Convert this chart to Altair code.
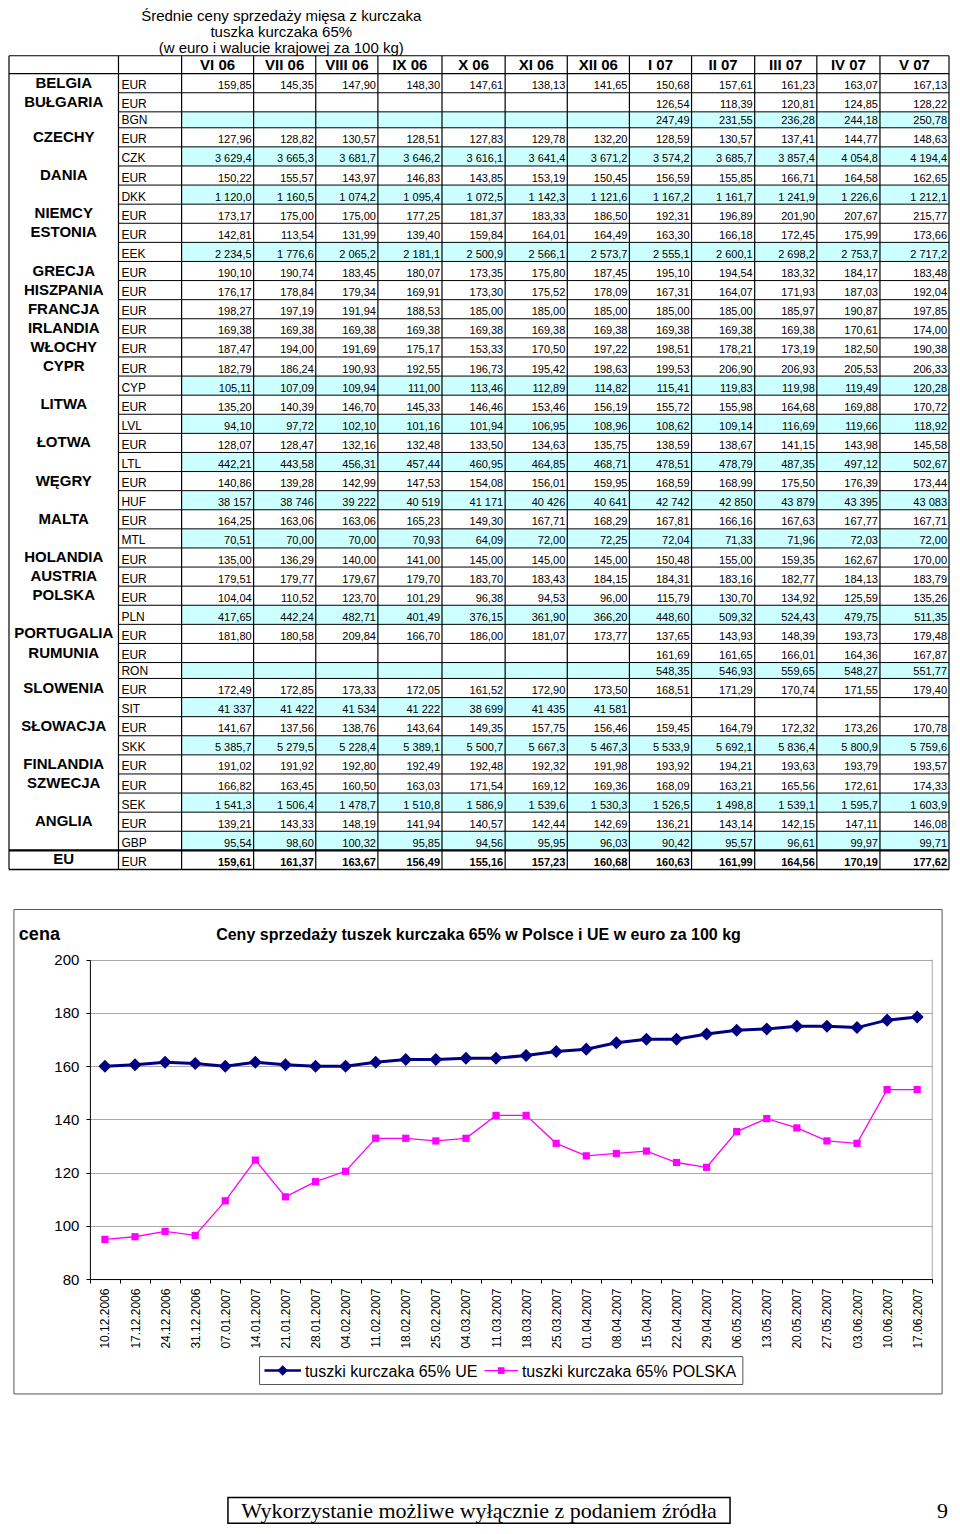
import altair as alt
import pandas as pd

# ---------------------------------------------------------------- texts
TITLE_LINES = ["Średnie ceny sprzedaży mięsa z kurczaka",
               "tuszka kurczaka 65%",
               "(w euro i walucie krajowej za 100 kg)"]
MONTHS = ["VI 06", "VII 06", "VIII 06", "IX 06", "X 06", "XI 06", "XII 06",
          "I 07", "II 07", "III 07", "IV 07", "V 07"]

# ---------------------------------------------------------------- table values
BELGIA_EUR = [159.85, 145.35, 147.90, 148.30, 147.61, 138.13, 141.65, 150.68, 157.61, 161.23, 163.07, 167.13]
BULGARIA_EUR = [None, None, None, None, None, None, None, 126.54, 118.39, 120.81, 124.85, 128.22]
BULGARIA_BGN = [None, None, None, None, None, None, None, 247.49, 231.55, 236.28, 244.18, 250.78]
CZECHY_EUR = [127.96, 128.82, 130.57, 128.51, 127.83, 129.78, 132.20, 128.59, 130.57, 137.41, 144.77, 148.63]
CZECHY_CZK = [3629.4, 3665.3, 3681.7, 3646.2, 3616.1, 3641.4, 3671.2, 3574.2, 3685.7, 3857.4, 4054.8, 4194.4]
DANIA_EUR = [150.22, 155.57, 143.97, 146.83, 143.85, 153.19, 150.45, 156.59, 155.85, 166.71, 164.58, 162.65]
DANIA_DKK = [1120.0, 1160.5, 1074.2, 1095.4, 1072.5, 1142.3, 1121.6, 1167.2, 1161.7, 1241.9, 1226.6, 1212.1]
NIEMCY_EUR = [173.17, 175.00, 175.00, 177.25, 181.37, 183.33, 186.50, 192.31, 196.89, 201.90, 207.67, 215.77]
ESTONIA_EUR = [142.81, 113.54, 131.99, 139.40, 159.84, 164.01, 164.49, 163.30, 166.18, 172.45, 175.99, 173.66]
ESTONIA_EEK = [2234.5, 1776.6, 2065.2, 2181.1, 2500.9, 2566.1, 2573.7, 2555.1, 2600.1, 2698.2, 2753.7, 2717.2]
GRECJA_EUR = [190.10, 190.74, 183.45, 180.07, 173.35, 175.80, 187.45, 195.10, 194.54, 183.32, 184.17, 183.48]
HISZPANIA_EUR = [176.17, 178.84, 179.34, 169.91, 173.30, 175.52, 178.09, 167.31, 164.07, 171.93, 187.03, 192.04]
FRANCJA_EUR = [198.27, 197.19, 191.94, 188.53, 185.00, 185.00, 185.00, 185.00, 185.00, 185.97, 190.87, 197.85]
IRLANDIA_EUR = [169.38, 169.38, 169.38, 169.38, 169.38, 169.38, 169.38, 169.38, 169.38, 169.38, 170.61, 174.00]
WLOCHY_EUR = [187.47, 194.00, 191.69, 175.17, 153.33, 170.50, 197.22, 198.51, 178.21, 173.19, 182.50, 190.38]
CYPR_EUR = [182.79, 186.24, 190.93, 192.55, 196.73, 195.42, 198.63, 199.53, 206.90, 206.93, 205.53, 206.33]
CYPR_CYP = [105.11, 107.09, 109.94, 111.00, 113.46, 112.89, 114.82, 115.41, 119.83, 119.98, 119.49, 120.28]
LITWA_EUR = [135.20, 140.39, 146.70, 145.33, 146.46, 153.46, 156.19, 155.72, 155.98, 164.68, 169.88, 170.72]
LITWA_LVL = [94.10, 97.72, 102.10, 101.16, 101.94, 106.95, 108.96, 108.62, 109.14, 116.69, 119.66, 118.92]
LOTWA_EUR = [128.07, 128.47, 132.16, 132.48, 133.50, 134.63, 135.75, 138.59, 138.67, 141.15, 143.98, 145.58]
LOTWA_LTL = [442.21, 443.58, 456.31, 457.44, 460.95, 464.85, 468.71, 478.51, 478.79, 487.35, 497.12, 502.67]
WEGRY_EUR = [140.86, 139.28, 142.99, 147.53, 154.08, 156.01, 159.95, 168.59, 168.99, 175.50, 176.39, 173.44]
WEGRY_HUF = [38157, 38746, 39222, 40519, 41171, 40426, 40641, 42742, 42850, 43879, 43395, 43083]
MALTA_EUR = [164.25, 163.06, 163.06, 165.23, 149.30, 167.71, 168.29, 167.81, 166.16, 167.63, 167.77, 167.71]
MALTA_MTL = [70.51, 70.00, 70.00, 70.93, 64.09, 72.00, 72.25, 72.04, 71.33, 71.96, 72.03, 72.00]
HOLANDIA_EUR = [135.00, 136.29, 140.00, 141.00, 145.00, 145.00, 145.00, 150.48, 155.00, 159.35, 162.67, 170.00]
AUSTRIA_EUR = [179.51, 179.77, 179.67, 179.70, 183.70, 183.43, 184.15, 184.31, 183.16, 182.77, 184.13, 183.79]
POLSKA_EUR = [104.04, 110.52, 123.70, 101.29, 96.38, 94.53, 96.00, 115.79, 130.70, 134.92, 125.59, 135.26]
POLSKA_PLN = [417.65, 442.24, 482.71, 401.49, 376.15, 361.90, 366.20, 448.60, 509.32, 524.43, 479.75, 511.35]
PORTUGALIA_EUR = [181.80, 180.58, 209.84, 166.70, 186.00, 181.07, 173.77, 137.65, 143.93, 148.39, 193.73, 179.48]
RUMUNIA_EUR = [None, None, None, None, None, None, None, 161.69, 161.65, 166.01, 164.36, 167.87]
RUMUNIA_RON = [None, None, None, None, None, None, None, 548.35, 546.93, 559.65, 548.27, 551.77]
SLOWENIA_EUR = [172.49, 172.85, 173.33, 172.05, 161.52, 172.90, 173.50, 168.51, 171.29, 170.74, 171.55, 179.40]
SLOWENIA_SIT = [41337, 41422, 41534, 41222, 38699, 41435, 41581, None, None, None, None, None]
SLOWACJA_EUR = [141.67, 137.56, 138.76, 143.64, 149.35, 157.75, 156.46, 159.45, 164.79, 172.32, 173.26, 170.78]
SLOWACJA_SKK = [5385.7, 5279.5, 5228.4, 5389.1, 5500.7, 5667.3, 5467.3, 5533.9, 5692.1, 5836.4, 5800.9, 5759.6]
FINLANDIA_EUR = [191.02, 191.92, 192.80, 192.49, 192.48, 192.32, 191.98, 193.92, 194.21, 193.63, 193.79, 193.57]
SZWECJA_EUR = [166.82, 163.45, 160.50, 163.03, 171.54, 169.12, 169.36, 168.09, 163.21, 165.56, 172.61, 174.33]
SZWECJA_SEK = [1541.3, 1506.4, 1478.7, 1510.8, 1586.9, 1539.6, 1530.3, 1526.5, 1498.8, 1539.1, 1595.7, 1603.9]
ANGLIA_EUR = [139.21, 143.33, 148.19, 141.94, 140.57, 142.44, 142.69, 136.21, 143.14, 142.15, 147.11, 146.08]
ANGLIA_GBP = [95.54, 98.60, 100.32, 95.85, 94.56, 95.95, 96.03, 90.42, 95.57, 96.61, 99.97, 99.71]
EU_EUR = [159.61, 161.37, 163.67, 156.49, 155.16, 157.23, 160.68, 160.63, 161.99, 164.56, 170.19, 177.62]

TABLE_ROWS = [
    ("BELGIA", "EUR", BELGIA_EUR),
    ("BUŁGARIA", "EUR", BULGARIA_EUR),
    ("", "BGN", BULGARIA_BGN),
    ("CZECHY", "EUR", CZECHY_EUR),
    ("", "CZK", CZECHY_CZK),
    ("DANIA", "EUR", DANIA_EUR),
    ("", "DKK", DANIA_DKK),
    ("NIEMCY", "EUR", NIEMCY_EUR),
    ("ESTONIA", "EUR", ESTONIA_EUR),
    ("", "EEK", ESTONIA_EEK),
    ("GRECJA", "EUR", GRECJA_EUR),
    ("HISZPANIA", "EUR", HISZPANIA_EUR),
    ("FRANCJA", "EUR", FRANCJA_EUR),
    ("IRLANDIA", "EUR", IRLANDIA_EUR),
    ("WŁOCHY", "EUR", WLOCHY_EUR),
    ("CYPR", "EUR", CYPR_EUR),
    ("", "CYP", CYPR_CYP),
    ("LITWA", "EUR", LITWA_EUR),
    ("", "LVL", LITWA_LVL),
    ("ŁOTWA", "EUR", LOTWA_EUR),
    ("", "LTL", LOTWA_LTL),
    ("WĘGRY", "EUR", WEGRY_EUR),
    ("", "HUF", WEGRY_HUF),
    ("MALTA", "EUR", MALTA_EUR),
    ("", "MTL", MALTA_MTL),
    ("HOLANDIA", "EUR", HOLANDIA_EUR),
    ("AUSTRIA", "EUR", AUSTRIA_EUR),
    ("POLSKA", "EUR", POLSKA_EUR),
    ("", "PLN", POLSKA_PLN),
    ("PORTUGALIA", "EUR", PORTUGALIA_EUR),
    ("RUMUNIA", "EUR", RUMUNIA_EUR),
    ("", "RON", RUMUNIA_RON),
    ("SLOWENIA", "EUR", SLOWENIA_EUR),
    ("", "SIT", SLOWENIA_SIT),
    ("SŁOWACJA", "EUR", SLOWACJA_EUR),
    ("", "SKK", SLOWACJA_SKK),
    ("FINLANDIA", "EUR", FINLANDIA_EUR),
    ("SZWECJA", "EUR", SZWECJA_EUR),
    ("", "SEK", SZWECJA_SEK),
    ("ANGLIA", "EUR", ANGLIA_EUR),
    ("", "GBP", ANGLIA_GBP),
    ("EU", "EUR", EU_EUR),
]
DECIMALS = {"EUR": 2, "BGN": 2, "CZK": 1, "DKK": 1, "EEK": 1, "CYP": 2, "LVL": 2,
            "LTL": 2, "HUF": 0, "MTL": 2, "PLN": 2, "RON": 2, "SIT": 0, "SKK": 1,
            "SEK": 1, "GBP": 2}

# ---------------------------------------------------------------- chart values
DATES = ["10.12.2006", "17.12.2006", "24.12.2006", "31.12.2006", "07.01.2007",
         "14.01.2007", "21.01.2007", "28.01.2007", "04.02.2007", "11.02.2007",
         "18.02.2007", "25.02.2007", "04.03.2007", "11.03.2007", "18.03.2007",
         "25.03.2007", "01.04.2007", "08.04.2007", "15.04.2007", "22.04.2007",
         "29.04.2007", "06.05.2007", "13.05.2007", "20.05.2007", "27.05.2007",
         "03.06.2007", "10.06.2007", "17.06.2007"]
UE = [160.0, 160.5, 161.5, 161.0, 160.0, 161.5, 160.5, 160.0, 160.0, 161.5,
      162.5, 162.5, 163.0, 163.0, 164.0, 165.5, 166.4, 168.8, 170.1, 170.1,
      172.1, 173.5, 174.0, 175.0, 175.0, 174.5, 177.3, 178.5]
PL = [94.9, 95.9, 97.9, 96.4, 109.4, 124.7, 110.9, 116.6, 120.5, 132.9,
      132.9, 131.9, 132.9, 141.5, 141.5, 131.0, 126.3, 127.2, 128.1, 123.8,
      122.0, 135.4, 140.3, 136.8, 131.9, 131.0, 151.2, 151.2]
SERIES = ["tuszki kurczaka 65% UE", "tuszki kurczaka 65% POLSKA"]
CHART_TITLE = "Ceny sprzedaży tuszek kurczaka 65% w Polsce i UE w euro za 100 kg"
Y_LABEL = "cena"
FOOTER = "Wykorzystanie możliwe wyłącznie z podaniem źródła"
PAGE_NO = "9"

# ---------------------------------------------------------------- styles / layout
FONT = "Liberation Sans"
CYAN = "#ccffff"
NAVY = "#000080"
MAGENTA = "#ff00ff"

CW, CH = 942, 1516          # whole drawing
SX = (CW - 2) / 953.0


def cx(px):                   # page-layout x -> drawing x
    return 1 + (px - 4) * SX


SY = CH / 1524.0


def cy(py):                   # page-layout y -> drawing y
    return (py - 8) * SY


COL_W = [111, 64, 73, 63, 63, 65, 64, 63, 63, 63, 64, 63, 64, 70]
edges = [4]
for w in COL_W:
    edges.append(edges[-1] + w)
HEAD_TOP, HEAD_BOT = 55, 73
SHORT = ("BGN", "RON")


def fmt(v, d):
    s = f"{v:,.{d}f}"
    return s.replace(",", " ").replace(".", ",")


fills, lines, hdr, ctry, curr, nums, nums_b = [], [], [], [], [], [], []
tops = []
y = HEAD_BOT
for country, cur, vals in TABLE_ROWS:
    h = 16.0 if cur in SHORT else 19.2
    top, bot = y, y + h
    tops.append((top, bot))
    if country:
        ctry.append({"t": country, "x": (edges[0] + edges[1]) / 2, "y": (top + bot) / 2 - 0.5})
    curr.append({"t": cur, "x": edges[1] + 3, "y": bot - 3.5})
    for c, v in enumerate(vals):
        xl, xr = edges[c + 2], edges[c + 3]
        if cur != "EUR" and (v is not None or cur in SHORT):
            fills.append({"x": xl, "x2": xr, "y": top, "y2": bot})
        if v is not None:
            rec = {"t": fmt(v, DECIMALS[cur]), "x": xr - 2, "y": bot - 3.5}
            (nums_b if country == "EU" else nums).append(rec)
    y = bot
TABLE_BOT = y

for i, m in enumerate(MONTHS):
    hdr.append({"t": m, "x": (edges[i + 2] + edges[i + 3]) / 2, "y": 64})

for e in edges:
    lines.append({"x": e, "x2": e, "y": HEAD_TOP, "y2": TABLE_BOT, "w": 1.2})
lines.append({"x": edges[0], "x2": edges[-1], "y": HEAD_TOP, "y2": HEAD_TOP, "w": 1.2})
lines.append({"x": edges[0], "x2": edges[-1], "y": HEAD_BOT, "y2": HEAD_BOT, "w": 1.2})
for i, (top, bot) in enumerate(tops[:-1]):
    if i == len(tops) - 2:
        lines.append({"x": edges[0], "x2": edges[-1], "y": bot, "y2": bot, "w": 2.2})
    else:
        lines.append({"x": edges[1], "x2": edges[-1], "y": bot, "y2": bot, "w": 1})
lines.append({"x": edges[0], "x2": edges[-1], "y": TABLE_BOT, "y2": TABLE_BOT, "w": 1.5})

titles = [{"t": t, "x": 280, "y": yy} for t, yy in zip(TITLE_LINES, [15, 31, 47])]

TW, TH = CW, cy(912)
TXS = alt.Scale(domain=[4, 957], range=[cx(4), cx(957)], nice=False, zero=False)
TYS = alt.Scale(domain=[8, 912], range=[0, TH], nice=False, zero=False)


def tx(f="x"):
    return alt.X(f + ":Q", scale=TXS, axis=None)


def ty(f="y"):
    return alt.Y(f + ":Q", scale=TYS, axis=None)


fill_layer = alt.Chart(pd.DataFrame(fills)).mark_rect(fill=CYAN, strokeWidth=0).encode(
    x=tx(), x2="x2:Q", y=ty(), y2="y2:Q")
line_layer = alt.Chart(pd.DataFrame(lines)).mark_rule(color="black").encode(
    x=tx(), x2="x2:Q", y=ty(), y2="y2:Q",
    strokeWidth=alt.StrokeWidth("w:Q", scale=None))


def text_layer(rows, **kw):
    return alt.Chart(pd.DataFrame(rows)).mark_text(font=FONT, color="black", **kw).encode(
        x=tx(), y=ty(), text="t:N")


table = alt.layer(
    fill_layer,
    line_layer,
    text_layer(titles, fontSize=15, align="center", baseline="middle"),
    text_layer(hdr, fontSize=15, fontWeight="bold", align="center", baseline="middle"),
    text_layer(ctry, fontSize=15, fontWeight="bold", align="center", baseline="middle"),
    text_layer(curr, fontSize=12, align="left", baseline="alphabetic"),
    text_layer(nums, fontSize=11, align="right", baseline="alphabetic"),
    text_layer(nums_b, fontSize=11, fontWeight="bold", align="right", baseline="alphabetic"),
).properties(width=TW, height=TH)

# ---------------------------------------------------------------- line chart
BY = 912                      # box top in page layout


def lx(px):
    return cx(px)


def ly(py):
    return cy(py) - cy(BY)


LW, LH = CW, ly(1400)
ue_df = pd.DataFrame({"date": DATES, "value": UE, "series": SERIES[0]})
pl_df = pd.DataFrame({"date": DATES, "value": PL, "series": SERIES[1]})

xs = alt.Scale(type="band", domain=DATES, range=[lx(86), lx(940)], paddingInner=0, paddingOuter=0)
ys = alt.Scale(domain=[80, 200], range=[ly(1284), ly(963)], nice=False, zero=False)
x_axis = alt.Axis(orient="bottom", offset=-(LH - ly(1284)), labelAngle=270, tickBand="extent",
                  labelFontSize=12, labelFont=FONT, labelColor="black", labelPadding=5,
                  tickSize=4, tickColor="black", domainColor="black", grid=False,
                  title=None, labelOverlap=False)
y_axis = alt.Axis(orient="left", offset=-lx(86), values=[80, 100, 120, 140, 160, 180, 200],
                  labelFontSize=15, labelFont=FONT, labelColor="black", labelPadding=7,
                  tickSize=4, tickColor="black", domainColor="black", grid=True,
                  gridColor="#a8a8a8", title=None)
X = alt.X("date:O", scale=xs, axis=x_axis)
Y = alt.Y("value:Q", scale=ys, axis=y_axis)

frame_df = pd.DataFrame({"a": [0]})
frame = alt.Chart(frame_df).mark_rect(fill="transparent", stroke="#555555", strokeWidth=1).encode(
    x=alt.value(lx(9)), x2=alt.value(lx(950)), y=alt.value(0.5), y2=alt.value(LH - 0.5))

border = alt.Chart(pd.DataFrame({"date": [DATES[-1]], "value": [80], "hi": [200]})).mark_rule(
    color="#a8a8a8").encode(x=alt.X("date:O", scale=xs, axis=x_axis, bandPosition=1), y=Y, y2="hi:Q")

ue_line = alt.Chart(ue_df).mark_line(color=NAVY, strokeWidth=3).encode(x=X, y=Y)
ue_pts = alt.Chart(ue_df).mark_point(shape="diamond", filled=True, size=170, color=NAVY,
                                     opacity=1).encode(x=X, y=Y)
pl_line = alt.Chart(pl_df).mark_line(color=MAGENTA, strokeWidth=1.3).encode(x=X, y=Y)
pl_pts = alt.Chart(pl_df).mark_point(shape="square", filled=True, size=52, color=MAGENTA,
                                     opacity=1).encode(x=X, y=Y)

# legend drawn inside the chart box (Excel style)
LEG_Y = ly(1376)
leg_df = pd.DataFrame({"a": [SERIES[0]], "b": [SERIES[1]]})
leg_box = alt.Chart(leg_df).mark_rect(fill="white", stroke="#555555", strokeWidth=1).encode(
    x=alt.value(lx(258)), x2=alt.value(lx(748)), y=alt.value(ly(1362)), y2=alt.value(ly(1390)))
leg_ue_rule = alt.Chart(leg_df).mark_rule(color=NAVY, strokeWidth=2.5).encode(
    x=alt.value(lx(263)), x2=alt.value(lx(300)), y=alt.value(LEG_Y))
leg_ue_pt = alt.Chart(leg_df).mark_point(shape="diamond", filled=True, size=110, color=NAVY,
                                         opacity=1).encode(x=alt.value(lx(281.5)), y=alt.value(LEG_Y))
leg_ue_txt = alt.Chart(leg_df).mark_text(font=FONT, fontSize=16, align="left", baseline="middle",
                                         color="black").encode(
    x=alt.value(lx(304)), y=alt.value(LEG_Y + 1), text="a:N")
leg_pl_rule = alt.Chart(leg_df).mark_rule(color=MAGENTA, strokeWidth=1.3).encode(
    x=alt.value(lx(486)), x2=alt.value(lx(520)), y=alt.value(LEG_Y))
leg_pl_pt = alt.Chart(leg_df).mark_point(shape="square", filled=True, size=45, color=MAGENTA,
                                         opacity=1).encode(x=alt.value(lx(503)), y=alt.value(LEG_Y))
leg_pl_txt = alt.Chart(leg_df).mark_text(font=FONT, fontSize=16, align="left", baseline="middle",
                                         color="black").encode(
    x=alt.value(lx(524)), y=alt.value(LEG_Y + 1), text="b:N")

one = pd.DataFrame({"t": [CHART_TITLE], "c": [Y_LABEL]})
title_txt = alt.Chart(one).mark_text(font=FONT, fontSize=16, fontWeight="bold", align="center",
                                     baseline="middle", color="black").encode(
    x=alt.value(lx(480)), y=alt.value(ly(938)), text="t:N")
cena_txt = alt.Chart(one).mark_text(font=FONT, fontSize=18, fontWeight="bold", align="left",
                                    baseline="middle", color="black").encode(
    x=alt.value(lx(14)), y=alt.value(ly(938)), text="c:N")

line_chart = alt.layer(
    frame, border, pl_line, pl_pts, ue_line, ue_pts,
    leg_box, leg_ue_rule, leg_ue_pt, leg_ue_txt, leg_pl_rule, leg_pl_pt, leg_pl_txt,
    title_txt, cena_txt,
).properties(width=LW, height=LH)

# ---------------------------------------------------------------- footer


def fy(py):
    return cy(py) - cy(1400)


foot = pd.DataFrame({"t": [FOOTER], "p": [PAGE_NO]})
FW, FH = CW, CH - cy(1400)
foot_box = alt.Chart(foot).mark_rect(fill="white", stroke="black", strokeWidth=1.5).encode(
    x=alt.value(cx(226)), x2=alt.value(cx(735)), y=alt.value(fy(1503)), y2=alt.value(fy(1529)))
foot_txt = alt.Chart(foot).mark_text(font="Liberation Serif", fontSize=22, align="center",
                                     baseline="middle", color="black").encode(
    x=alt.value(cx(480.5)), y=alt.value(fy(1516.5)), text="t:N")
page_txt = alt.Chart(foot).mark_text(font="Liberation Serif", fontSize=22, align="right",
                                     baseline="middle", color="black").encode(
    x=alt.value(cx(956)), y=alt.value(fy(1516.5)), text="p:N")
footer = alt.layer(foot_box, foot_txt, page_txt).properties(width=FW, height=FH)

chart = alt.vconcat(table, line_chart, footer, spacing=0, bounds="flush").properties(
    padding={"left": -7, "top": 0, "right": 0, "bottom": 0}, background="white"
).configure(font=FONT, view=alt.ViewConfig(stroke="transparent"))

chart.save("out.html", embed_options={"renderer": "svg", "actions": False})
